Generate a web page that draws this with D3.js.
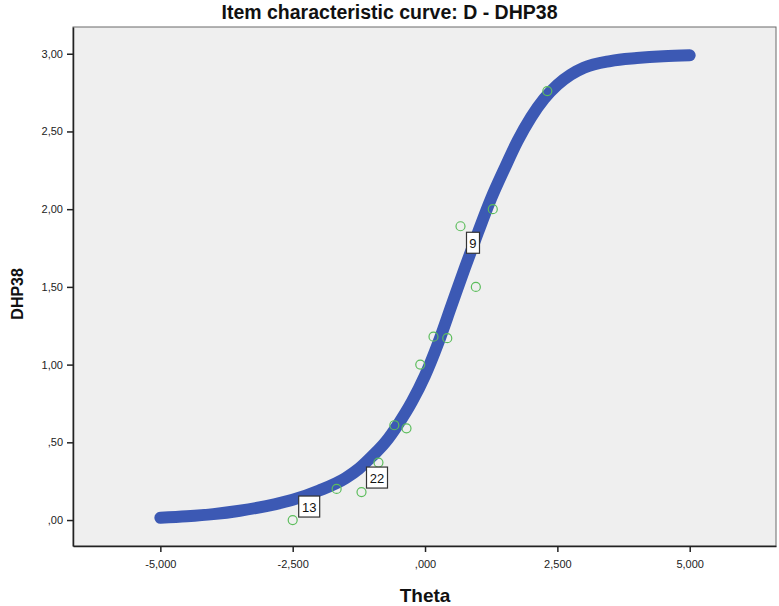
<!DOCTYPE html>
<html>
<head>
<meta charset="utf-8">
<script src="https://cdn.jsdelivr.net/npm/d3@7"></script>
<style>
	body { margin: 0; background: #ffffff; }
	svg { display: block; }
</style>
</head>
<body>
<div id="chart"></div>
<script>
// expected score curve
const curveTheta = [-5, -4.5, -4, -3.5, -3, -2.5, -2, -1.5, -1.25, -1, -0.75, -0.5, -0.25, 0, 0.25, 0.5, 0.75, 1, 1.25, 1.5, 1.75, 2, 2.25, 2.5, 2.75, 3, 3.5, 4, 4.5, 5]
const curveScore = [0.015, 0.024, 0.038, 0.06, 0.09, 0.13, 0.19, 0.27, 0.33, 0.41, 0.5, 0.62, 0.76, 0.93, 1.14, 1.38, 1.62, 1.85, 2.07, 2.26, 2.44, 2.59, 2.71, 2.8, 2.865, 2.91, 2.953, 2.972, 2.984, 2.99]

// observed group means (green circles)
const obsTheta = [-2.5, -1.67, -1.2, -0.88, -0.58, -0.35, -0.09, 0.16, 0.42, 0.96, 0.67, 1.28, 2.31]
const obsScore = [0.0, 0.2, 0.18, 0.37, 0.61, 0.59, 1.0, 1.18, 1.17, 1.5, 1.89, 2.0, 2.76]

// point labels: text and which observed point they belong to
const labelText = ["13", "22", "9"]
const labelPoint = [0, 2, 10]

const xTicks = [-5, -2.5, 0, 2.5, 5]
const yTicks = [0, 0.5, 1, 1.5, 2, 2.5, 3]

const width = 779
const height = 606
const margin = { left: 73, right: 3, top: 27, bottom: 60 }
const curveColor = "#3c59b4"
const pointColor = "#5cbd5c"
// label box offsets relative to its point (px)
const labelOffset = { "13": [6, -24], "22": [5, -25], "9": [6, 6] }

const svg = d3.select("#chart")
	.append("svg")
	.attr("width", width)
	.attr("height", height)

const x = d3.scaleLinear()
	.domain([-6.65, 6.63])
	.range([margin.left, width - margin.right])
const y = d3.scaleLinear()
	.domain([-0.167, 3.172])
	.range([height - margin.bottom, margin.top])

const fmt = function (digits) {
	return function (d) {
		let s = d3.format("." + digits + "f")(d).replace(".", ",").replace("\u2212", "-")
		return s.replace(/^(-?)0,/, "$1,")
	}
}

// plot background
svg.append("rect")
	.attr("x", margin.left)
	.attr("y", margin.top)
	.attr("width", width - margin.right - margin.left)
	.attr("height", height - margin.bottom - margin.top)
	.attr("fill", "#efefef")
	.attr("stroke", "#6b6b6b")
	.attr("stroke-width", 1)

// axes
const xAxis = svg.append("g")
	.attr("transform", "translate(0," + (height - margin.bottom) + ")")
	.call(d3.axisBottom(x).tickValues(xTicks).tickFormat(fmt(3)).tickSize(6).tickSizeOuter(0))
const yAxis = svg.append("g")
	.attr("transform", "translate(" + margin.left + ",0)")
	.call(d3.axisLeft(y).tickValues(yTicks).tickFormat(fmt(2)).tickSize(6).tickSizeOuter(0))

svg.selectAll(".domain").attr("stroke", "#222").attr("stroke-width", 1.5)
svg.selectAll(".tick line").attr("stroke", "#222").attr("stroke-width", 1.5)
svg.selectAll(".tick text")
	.attr("font-family", "Liberation Sans, Arial, sans-serif")
	.attr("font-size", 11)
	.attr("fill", "#222")
xAxis.selectAll(".tick text").attr("dy", "1.2em")
yAxis.selectAll(".tick text").attr("dx", "-1px")

// curve
const curvePts = curveTheta.map((t, i) => [t, curveScore[i]])
const line = d3.line()
	.x(d => x(d[0]))
	.y(d => y(d[1]))
	.curve(d3.curveMonotoneX)

svg.append("path")
	.datum(curvePts)
	.attr("d", line)
	.attr("fill", "none")
	.attr("stroke", curveColor)
	.attr("stroke-width", 12)
	.attr("stroke-linecap", "round")

// observed points
svg.append("g")
	.selectAll("circle")
	.data(obsTheta)
	.enter()
	.append("circle")
	.attr("cx", d => x(d))
	.attr("cy", (d, i) => y(obsScore[i]))
	.attr("r", 4.5)
	.attr("fill", "none")
	.attr("stroke", pointColor)
	.attr("stroke-width", 1.2)

// point labels
labelText.forEach(function (txt, i) {
	const p = labelPoint[i]
	const px = x(obsTheta[p])
	const py = y(obsScore[p])
	const off = labelOffset[txt]
	const w = txt.length > 1 ? 21 : 13
	const g = svg.append("g")
		.attr("transform", "translate(" + (px + off[0]) + "," + (py + off[1]) + ")")
	g.append("rect")
		.attr("width", w)
		.attr("height", 21)
		.attr("fill", "#ffffff")
		.attr("stroke", "#333")
		.attr("stroke-width", 1.2)
	g.append("text")
		.attr("x", w / 2)
		.attr("y", 15.5)
		.attr("text-anchor", "middle")
		.attr("font-family", "Liberation Sans, Arial, sans-serif")
		.attr("font-size", 13)
		.attr("fill", "#111")
		.text(txt)
})

// titles
svg.append("text")
	.attr("x", width / 2)
	.attr("y", 19)
	.attr("text-anchor", "middle")
	.attr("font-family", "Liberation Sans, Arial, sans-serif")
	.attr("font-weight", "bold")
	.attr("font-size", 19.5)
	.attr("fill", "#111")
	.text("Item characteristic curve: D - DHP38")

svg.append("text")
	.attr("x", x(0))
	.attr("y", 602)
	.attr("text-anchor", "middle")
	.attr("font-family", "Liberation Sans, Arial, sans-serif")
	.attr("font-weight", "bold")
	.attr("font-size", 19)
	.attr("fill", "#111")
	.text("Theta")

svg.append("text")
	.attr("transform", "translate(23," + (y(1.5) + 7) + ") rotate(-90)")
	.attr("text-anchor", "middle")
	.attr("font-family", "Liberation Sans, Arial, sans-serif")
	.attr("font-weight", "bold")
	.attr("font-size", 16)
	.attr("fill", "#111")
	.text("DHP38")
</script>
</body>
</html>
